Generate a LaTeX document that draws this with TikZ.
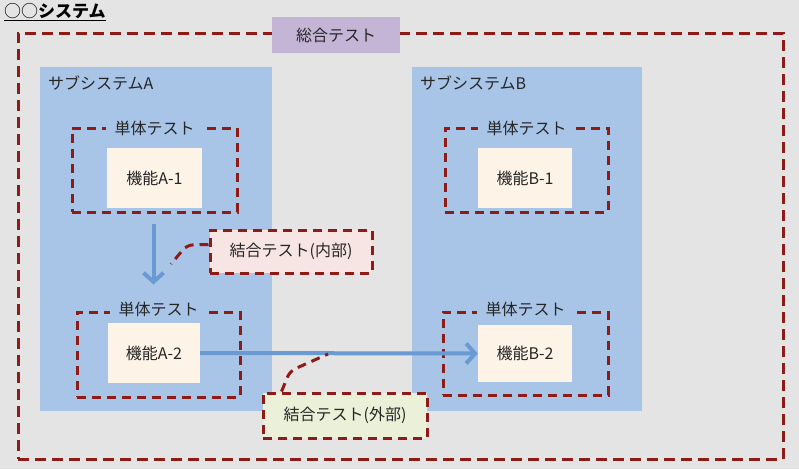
\documentclass[tikz,border=0pt]{standalone}
\usepackage{fontspec}
\setmainfont{Noto Sans CJK JP}
\usetikzlibrary{arrows.meta,calc}
\definecolor{bgc}{HTML}{E4E4E4}
\definecolor{dred}{HTML}{8E1B17}
\definecolor{purp}{HTML}{C4B5D6}
\definecolor{subblue}{HTML}{A8C5E8}
\definecolor{cream}{HTML}{FDF3E7}
\definecolor{arrblue}{HTML}{6A9AD2}
\definecolor{pinkc}{HTML}{F6E5E3}
\definecolor{greenc}{HTML}{EBF0D9}
\tikzset{
  txt/.style={font=\fontsize{16}{19}\selectfont, text=black!85},
  subsys/.style={fill=subblue, draw=none, inner sep=0pt},
  unitbox/.style={draw=dred, line width=3pt, dash pattern=on 9pt off 6pt, inner sep=0pt},
  unitlabel/.style={txt, fill=subblue, inner xsep=9pt, inner ysep=1pt},
  fnbox/.style={txt, fill=cream, draw=none, inner sep=0pt},
  flow/.style={draw=arrblue, line width=4pt, -{Straight Barb[length=9pt,width=20pt,line width=4pt]}},
  callbox/.style={txt, draw=dred, line width=3pt, dash pattern=on 9pt off 6pt, inner sep=0pt},
  callline/.style={draw=dred, line width=3pt, dash pattern=on 9pt off 6pt, rounded corners=6pt},
}
\begin{document}
\begin{tikzpicture}[x=1pt,y=-1pt]
\fill[bgc] (0,0) rectangle (799,469);
\useasboundingbox (0,0) rectangle (799,469);
% title
\node[anchor=west, font=\fontsize{17}{20}\selectfont, inner sep=0pt] (title) at (4,12) {\underline{○○\textbf{システム}}};
% outer system boundary
\node[draw=dred, line width=3pt, dash pattern=on 11pt off 6pt, minimum width=765pt, minimum height=426pt, inner sep=0pt] (sys) at (400.5,246) {};
\node[txt, fill=purp, minimum width=128pt, minimum height=36pt, inner sep=0pt] (sogo) at (336,35) {総合テスト};
% subsystems
\node[subsys, minimum width=232pt, minimum height=344pt] (subA) at (156,239) {};
\node[subsys, minimum width=230pt, minimum height=344pt] (subB) at (527,239) {};
\node[txt, anchor=west, inner sep=0pt] (subAl) at (48,83) {サブシステムA};
\node[txt, anchor=west, inner sep=0pt] (subBl) at (420,83) {サブシステムB};
% unit test boxes
\node[unitbox, minimum width=165pt, minimum height=84pt] (ua1) at (154.5,170) {};
\node[unitbox, minimum width=163pt, minimum height=84pt] (ub1) at (526.5,170) {};
\node[unitbox, minimum width=163pt, minimum height=85pt] (ua2) at (158.5,354.5) {};
\node[unitbox, minimum width=165pt, minimum height=83pt] (ub2) at (525.5,353.5) {};
\node[unitlabel] (ua1l) at ([yshift=-2pt]ua1.north) {単体テスト};
\node[unitlabel] (ub1l) at ([yshift=-2pt]ub1.north) {単体テスト};
\node[unitlabel] (ua2l) at ([yshift=1pt]ua2.north) {単体テスト};
\node[unitlabel] (ub2l) at ([yshift=1pt]ub2.north) {単体テスト};
% function boxes
\node[fnbox, minimum width=95pt, minimum height=60pt] (fa1) at (154.5,178) {機能A-1};
\node[fnbox, minimum width=94pt, minimum height=60pt] (fb1) at (525,178) {機能B-1};
\node[fnbox, minimum width=92pt, minimum height=60pt] (fa2) at (154,353) {機能A-2};
\node[fnbox, minimum width=94pt, minimum height=57pt] (fb2) at (525,353.5) {機能B-2};
% flows
\draw[flow] ([yshift=-10pt,xshift=-1pt]ua1.south) -- ([yshift=26pt,xshift=-5pt]ua2.north);
\draw[flow] (fa2.east) -- (fb2.west);
% integration test callouts
\node[callbox, fill=pinkc, minimum width=162pt, minimum height=43pt] (cin) at (291,251.5) {結合テスト(内部)};
\node[callbox, fill=greenc, minimum width=164pt, minimum height=45pt] (cout) at (345,415.5) {結合テスト(外部)};
\coordinate (cinEnd) at (171,264);
\coordinate (coutEnd) at (328,354);
\draw[callline] ([yshift=7pt]cin.west) -- (187,245) -- (cinEnd);
\draw[callline] ([xshift=20pt]cout.north west) -- (290,371) -- (coutEnd);
\end{tikzpicture}
\end{document}
